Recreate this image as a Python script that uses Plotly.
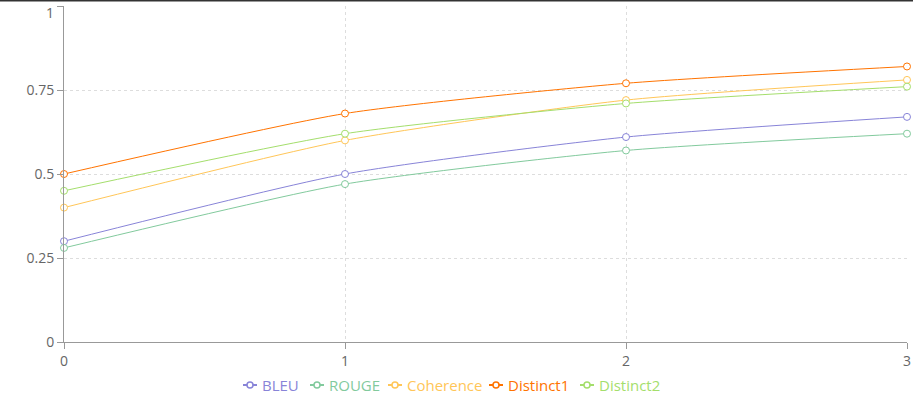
import plotly.graph_objects as go

# ── Data ────────────────────────────────────────────────────────────────────
steps = [0, 1, 2, 3]
bleu = [0.30, 0.50, 0.61, 0.67]
rouge = [0.28, 0.47, 0.57, 0.62]
coherence = [0.40, 0.60, 0.72, 0.78]
distinct1 = [0.50, 0.68, 0.77, 0.82]
distinct2 = [0.45, 0.62, 0.71, 0.76]
y_ticks = [0, 0.25, 0.5, 0.75, 1]

series = [
    ("BLEU", bleu, "#8884d8"),
    ("ROUGE", rouge, "#82ca9d"),
    ("Coherence", coherence, "#ffc658"),
    ("Distinct1", distinct1, "#ff7300"),
    ("Distinct2", distinct2, "#a4de6c"),
]

# ── Layout geometry (pixels) ────────────────────────────────────────────────
W, H = 913, 398
M = dict(l=64, r=6, t=6, b=56)
PW = W - M["l"] - M["r"]
PH = H - M["t"] - M["b"]
LEGEND_ICON_X = [243, 310, 388, 489, 580]   # left edge of each legend icon
LEGEND_Y = 385


def px_x(p):
    return (p - M["l"]) / PW


def px_y(p):
    return (H - M["b"] - p) / PH


fig = go.Figure()
for name, values, color in series:
    fig.add_trace(
        go.Scatter(
            x=steps,
            y=values,
            name=name,
            mode="lines+markers",
            line=dict(color=color, width=1, shape="spline", smoothing=0.6),
            marker=dict(size=7, color="white", line=dict(color=color, width=1)),
            cliponaxis=False,
            showlegend=False,
        )
    )

# ── Custom legend (compact recharts-style) ──────────────────────────────────
ly = px_y(LEGEND_Y)
for (name, _, color), x0 in zip(series, LEGEND_ICON_X):
    fig.add_shape(type="line", xref="paper", yref="paper",
                  x0=px_x(x0), x1=px_x(x0 + 14), y0=ly, y1=ly,
                  line=dict(color=color, width=2))
    fig.add_shape(type="circle", xref="paper", yref="paper",
                  x0=px_x(x0 + 4), x1=px_x(x0 + 10),
                  y0=px_y(LEGEND_Y + 3), y1=px_y(LEGEND_Y - 3),
                  fillcolor="white", line=dict(color=color, width=1.5))
    fig.add_annotation(x=px_x(x0 + 17), y=ly, xref="paper", yref="paper",
                       text=name, showarrow=False, xanchor="left", yanchor="middle",
                       font=dict(color=color, size=15))

axis_common = dict(
    showline=True,
    linecolor="#999",
    linewidth=1,
    ticks="outside",
    ticklen=6,
    tickcolor="#999",
    tickfont=dict(color="#666", size=14),
    gridcolor="#ddd",
    griddash="3px,3px",
    zeroline=False,
    automargin=False,
    ticklabeloverflow="allow",
)

fig.update_xaxes(range=[0, 3], tickvals=steps, **axis_common)
fig.update_yaxes(range=[0, 1], tickvals=y_ticks,
                 ticktext=[f"{v:g}" if v < 1 else "" for v in y_ticks], **axis_common)

# top label nudged down so it stays inside the frame
fig.add_annotation(x=0, y=y_ticks[-1], xref="paper", yref="y", text="1",
                   showarrow=False, xanchor="right", yanchor="middle",
                   xshift=-8, yshift=-6, font=dict(color="#666", size=14))

fig.add_shape(type="line", xref="paper", yref="paper",
              x0=-0.1, x1=1.1, y0=px_y(0.5), y1=px_y(0.5),
              line=dict(color="#333", width=2))

fig.update_layout(
    width=W,
    height=H,
    margin=dict(**M, autoexpand=False),
    plot_bgcolor="white",
    paper_bgcolor="white",
    font=dict(family="Open Sans, Noto Sans, sans-serif", size=14, color="#666"),
    showlegend=False,
)

fig.write_html("out.html", config={"displayModeBar": False},
               post_script="document.body.style.margin='0';")
